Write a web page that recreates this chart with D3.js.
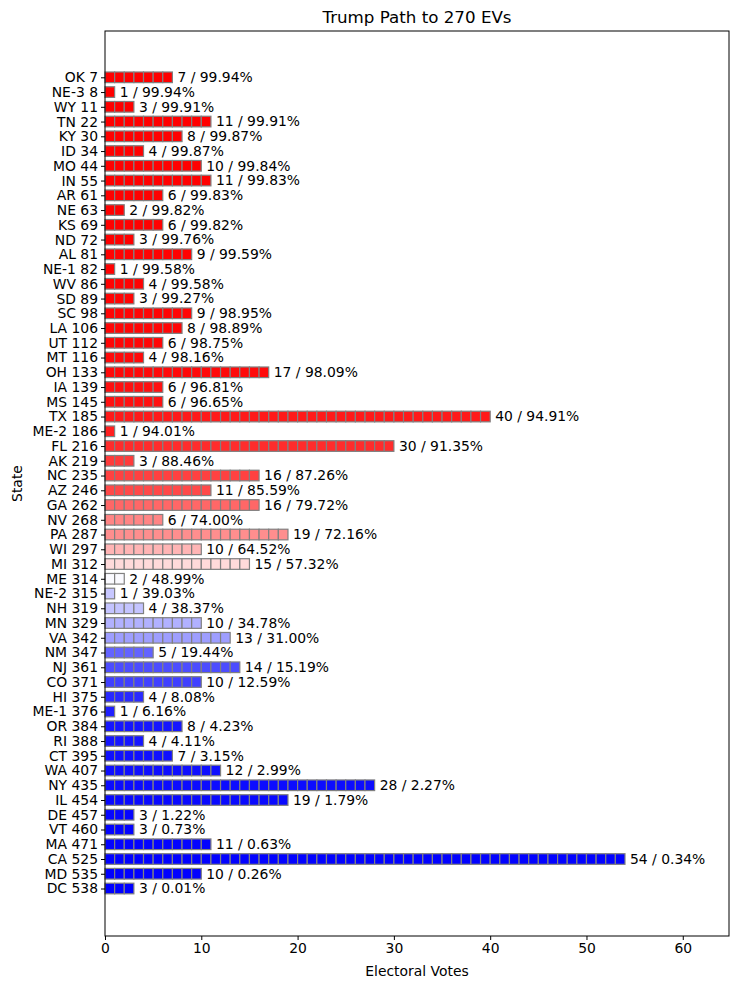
<!DOCTYPE html>
<html>
<head>
<meta charset="utf-8">
<script src="https://cdn.jsdelivr.net/npm/d3@7"></script>
<style>
  body { margin: 0; background: #fff; }
  text { font-family: "DejaVu Sans", sans-serif; fill: #000; }
</style>
</head>
<body>
<div id="chart"></div>
<script>
// states in order of Trump win probability
var states = ["OK","NE-3","WY","TN","KY","ID","MO","IN","AR","NE","KS","ND","AL","NE-1","WV","SD","SC","LA","UT","MT",
  "OH","IA","MS","TX","ME-2","FL","AK","NC","AZ","GA","NV","PA","WI","MI","ME","NE-2","NH","MN","VA","NM",
  "NJ","CO","HI","ME-1","OR","RI","CT","WA","NY","IL","DE","VT","MA","CA","MD","DC"];
var evs = [7,1,3,11,8,4,10,11,6,2,6,3,9,1,4,3,9,8,6,4,
  17,6,6,40,1,30,3,16,11,16,6,19,10,15,2,1,4,10,13,5,
  14,10,4,1,8,4,7,12,28,19,3,3,11,54,10,3];
var probs = [99.94,99.94,99.91,99.91,99.87,99.87,99.84,99.83,99.83,99.82,99.82,99.76,99.59,99.58,99.58,99.27,98.95,98.89,98.75,98.16,
  98.09,96.81,96.65,94.91,94.01,91.35,88.46,87.26,85.59,79.72,74.00,72.16,64.52,57.32,48.99,39.03,38.37,34.78,31.00,19.44,
  15.19,12.59,8.08,6.16,4.23,4.11,3.15,2.99,2.27,1.79,1.22,0.73,0.63,0.34,0.26,0.01];
var xTicks = [0,10,20,30,40,50,60];

var cum = Array.from(d3.cumsum(evs));
var rows = states.map(function(s, i) {
  return { state: s, ev: evs[i], p: probs[i], total: cum[i], i: i };
});

var W = 739, H = 989;
var margin = { top: 31, right: 10, bottom: 53, left: 105 };
var width = W - margin.left - margin.right;
var height = H - margin.top - margin.bottom;

var svg = d3.select("#chart").append("svg")
  .attr("width", W).attr("height", H)
  .append("g")
  .attr("transform", "translate(" + margin.left + "," + margin.top + ")");

var x = d3.scaleLinear().domain([0, d3.max(evs) * 1.2]).range([0, width]);
var y = d3.scaleLinear().domain([-3.14, rows.length + 2.22]).range([0, height]);
var barH = y(0.72) - y(0);

// blue-white-red like matplotlib "bwr"
var color = d3.scaleLinear().domain([0, 50, 100]).range(["#0000ff", "#ffffff", "#ff0000"]);

// one small cell per electoral vote
var bars = svg.append("g").selectAll("g")
  .data(rows)
  .enter().append("g");

bars.selectAll("rect")
  .data(function(d) { return d3.range(d.ev).map(function(k) { return { k: k, p: d.p, i: d.i }; }); })
  .enter().append("rect")
    .attr("x", function(c) { return x(c.k); })
    .attr("y", function(c) { return y(c.i) - barH / 2; })
    .attr("width", x(1) - x(0))
    .attr("height", barH)
    .style("fill", function(c) { return color(c.p); })
    .style("stroke", "#808080")
    .style("stroke-width", 1.2);

// value labels
bars.append("text")
  .attr("x", function(d) { return x(d.ev) + 5; })
  .attr("y", function(d) { return y(d.i); })
  .attr("dy", "0.35em")
  .style("font-size", "13.9px")
  .text(function(d) { return d.ev + " / " + d.p.toFixed(2) + "%"; });

// frame
svg.append("rect")
  .attr("width", width).attr("height", height)
  .style("fill", "none").style("stroke", "#000").style("stroke-width", 1);

// axes
var xAxis = svg.append("g")
  .attr("transform", "translate(0," + height + ")")
  .call(d3.axisBottom(x).tickValues(xTicks).tickSize(4).tickPadding(3));
xAxis.select(".domain").remove();
xAxis.selectAll("text").style("font-size", "13.9px").attr("font-family", null);

var yAxis = svg.append("g")
  .call(d3.axisLeft(y)
    .tickValues(rows.map(function(d) { return d.i; }))
    .tickFormat(function(i) { return rows[i].state + " " + rows[i].total; })
    .tickSize(4).tickPadding(3));
yAxis.select(".domain").remove();
yAxis.selectAll("text").style("font-size", "13.9px").attr("font-family", null);

// titles
svg.append("text")
  .attr("x", width / 2).attr("y", -8)
  .attr("text-anchor", "middle")
  .style("font-size", "16.7px")
  .text("Trump Path to 270 EVs");

svg.append("text")
  .attr("x", width / 2).attr("y", height + 40)
  .attr("text-anchor", "middle")
  .style("font-size", "13.9px")
  .text("Electoral Votes");

svg.append("text")
  .attr("transform", "rotate(-90)")
  .attr("x", -height / 2).attr("y", -83)
  .attr("text-anchor", "middle")
  .style("font-size", "13.9px")
  .text("State");
</script>
</body>
</html>
